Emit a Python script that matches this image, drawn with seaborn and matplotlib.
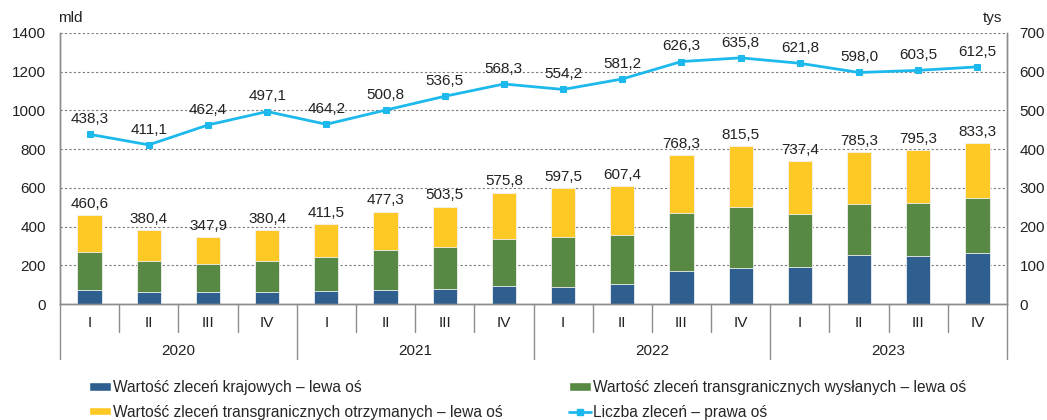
import numpy as np
import pandas as pd
import matplotlib
matplotlib.use('Agg')
import matplotlib.pyplot as plt
import seaborn as sns
from matplotlib.patches import Patch
from matplotlib.lines import Line2D

# dane
YEARS = ['2020', '2021', '2022', '2023']
QUARTERS = ['I', 'II', 'III', 'IV']

krajowe = [71, 64, 64, 64, 69, 74, 79, 93, 90, 105, 172, 184, 190, 252, 247, 264]
wyslane = [196, 160, 143, 160, 174, 204, 216, 245, 257, 254, 300, 319, 277, 267, 274, 286]
razem = [460.6, 380.4, 347.9, 380.4, 411.5, 477.3, 503.5, 575.8,
         597.5, 607.4, 768.3, 815.5, 737.4, 785.3, 795.3, 833.3]
liczba = [438.3, 411.1, 462.4, 497.1, 464.2, 500.8, 536.5, 568.3,
          554.2, 581.2, 626.3, 635.8, 621.8, 598.0, 603.5, 612.5]

BLUE = '#2E5F8E'
GREEN = '#578844'
YELLOW = '#FFC925'
CYAN = '#1DB9EC'
GRAY = '#8C8C8C'

sns.set_theme(style='white')
plt.rcParams['font.family'] = ['Liberation Sans', 'DejaVu Sans']
plt.rcParams['font.size'] = 11

okresy = [f'{y} {q}' for y in YEARS for q in QUARTERS]
df = pd.DataFrame({
    'okres': okresy,
    'krajowe': krajowe,
    'kraj_wysl': np.array(krajowe) + np.array(wyslane),
    'razem': razem,
})

fig = plt.figure(figsize=(10.47, 4.2), dpi=100)
ax = fig.add_axes([60 / 1047, 1 - 304 / 420, 947 / 1047, 271 / 420])

bar_kw = dict(width=0.41, saturation=1, edgecolor='#f2f2f2', linewidth=0.6, ax=ax)
sns.barplot(data=df, x='okres', y='razem', color=YELLOW, **bar_kw)
sns.barplot(data=df, x='okres', y='kraj_wysl', color=GREEN, **bar_kw)
sns.barplot(data=df, x='okres', y='krajowe', color=BLUE, **bar_kw)

ax2 = ax.twinx()
x = np.arange(len(okresy))
sns.lineplot(x=x, y=liczba, ax=ax2, color=CYAN, linewidth=2, marker='s',
             markersize=5, markeredgecolor=CYAN)

ax.set_ylim(0, 1400)
ax2.set_ylim(0, 700)
ax.set_xlim(-0.5, len(okresy) - 0.5)
ax.set_yticks(range(0, 1401, 200))
ax2.set_yticks(range(0, 701, 100))
ax.yaxis.grid(True, linestyle=(0, (2, 2)), color='#7a7a7a', linewidth=0.8)
ax.set_axisbelow(True)
ax.set_xlabel('')
ax.set_ylabel('')
ax2.set_ylabel('')

for a in (ax, ax2):
    a.spines['top'].set_visible(False)
    for s in ('left', 'right', 'bottom'):
        a.spines[s].set_color(GRAY)
        a.spines[s].set_linewidth(1)
ax.tick_params(axis='y', length=0, pad=10, labelsize=11, colors='#222222')
ax2.tick_params(axis='y', length=0, pad=9, labelsize=11, colors='#222222')
ax.set_xticks(x)
ax.set_xticklabels([])
ax.tick_params(axis='x', length=0)

# etykiety wartości
for i in range(len(okresy)):
    ax.annotate(f'{razem[i]:.1f}'.replace('.', ','), (i, razem[i]),
                xytext=(0, 8), textcoords='offset points',
                ha='center', va='center', fontsize=11, color='#222222')
    ax2.annotate(f'{liczba[i]:.1f}'.replace('.', ','), (i, liczba[i]),
                 xytext=(0, 11), textcoords='offset points',
                 ha='center', va='center', fontsize=11, color='#222222')

# oś kategorii: kwartały i lata
tr = ax.get_xaxis_transform()
for k in range(len(okresy) + 1):
    xs = k - 0.5
    y_end = -55 / 271 if k % 4 == 0 else -28 / 271
    ax.plot([xs, xs], [0, y_end], transform=tr, color=GRAY, linewidth=1,
            clip_on=False)
for i, lab in enumerate(okresy):
    ax.text(i, -19 / 271, lab.split()[1], transform=tr, ha='center',
            va='center', fontsize=11, color='#222222')
for j, y in enumerate(YEARS):
    ax.text(j * 4 + 1.5, -47 / 271, y, transform=tr, ha='center',
            va='center', fontsize=11, color='#222222')

fig.text(58 / 1047, 1 - 18 / 420, 'mld', ha='left', va='center',
         fontsize=11, color='#222222')
fig.text(1002 / 1047, 1 - 18 / 420, 'tys', ha='right', va='center',
         fontsize=11, color='#222222')

handles = [
    Patch(facecolor=BLUE, label='Wartość zleceń krajowych – lewa oś'),
    Patch(facecolor=YELLOW, label='Wartość zleceń transgranicznych otrzymanych – lewa oś'),
    Patch(facecolor=GREEN, label='Wartość zleceń transgranicznych wysłanych – lewa oś'),
    Line2D([0], [0], color=CYAN, marker='s', markersize=4, linewidth=2,
           label='Liczba zleceń – prawa oś'),
]
fig.legend(handles=handles, ncol=2, loc='center left',
           bbox_to_anchor=(89 / 1047, 1 - 400 / 420), frameon=False,
           fontsize=11.2, handlelength=1.4, handleheight=0.45,
           handletextpad=0.12, columnspacing=4.3, labelspacing=0.62,
           borderaxespad=0, borderpad=0)

fig.savefig('out.png', dpi=100)
